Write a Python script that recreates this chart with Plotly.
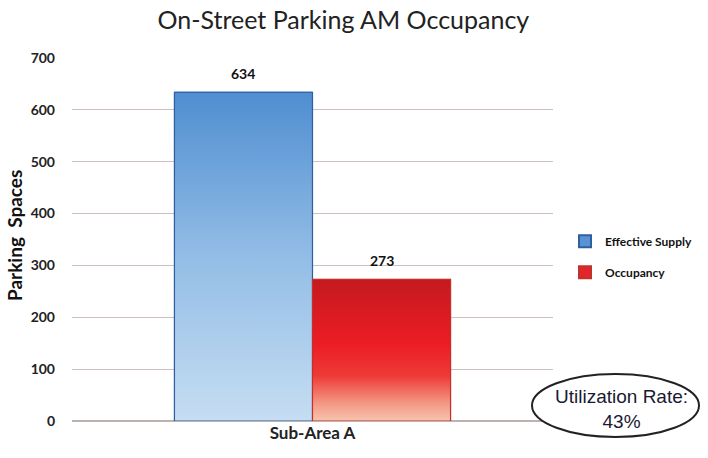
import plotly.graph_objects as go

# Chart data
categories = ["Sub-Area A"]
series_names = ["Effective Supply", "Occupancy"]
supply = [634]
occupancy = [273]
y_ticks = [0, 100, 200, 300, 400, 500, 600, 700]

series_values = [supply, occupancy]
solid_colors = ["#5a93d4", "#e0252b"]
edge_colors = ["#2f5f9e", "#c4302c"]
gradients = [
    [[0.0, "#c6ddf2"], [0.5, "#93bde6"], [1.0, "#4f8ed1"]],
    [[0.0, "#f7c4ae"], [0.12, "#f39a86"], [0.32, "#ee3a36"], [0.55, "#ec1c24"], [1.0, "#c41a1f"]],
]

bar_width = 0.287  # width of each bar in x-axis units
offsets = [-bar_width / 2, bar_width / 2]

fig = go.Figure()

for k, (name, vals, col, edge, off) in enumerate(zip(series_names, series_values, solid_colors, edge_colors, offsets)):
    xs = [i + off for i in range(len(categories))]
    fig.add_trace(go.Bar(
        x=xs, y=vals, name=name, width=bar_width,
        legendgroup=f"g{k}",
        marker=dict(color=col, line=dict(color=edge, width=1)),
    ))
    # value labels above each bar
    for x, v in zip(xs, vals):
        fig.add_annotation(x=x, y=v, text=str(v), showarrow=False, xanchor="center",
                           yanchor="bottom", yshift=8,
                           font=dict(family="Lato", size=14, color="#111111", weight="bold"))

# Vertical gradient fill laid over each bar
for vals, grad, edge, off in zip(series_values, gradients, edge_colors, offsets):
    for i, v in enumerate(vals):
        x0 = i + off - bar_width / 2
        x1 = i + off + bar_width / 2
        fig.add_trace(go.Scatter(
            x=[x0, x1, x1, x0, x0], y=[0, 0, v, v, 0], mode="lines",
            fill="toself", fillgradient=dict(type="vertical", colorscale=grad),
            line=dict(color=edge, width=1.2), showlegend=False, hoverinfo="skip",
        ))

rate = round(100 * sum(occupancy) / sum(supply))

fig.update_layout(
    width=708, height=458,
    margin=dict(l=72, r=155, t=58, b=37, autoexpand=False),
    paper_bgcolor="white", plot_bgcolor="white",
    title=dict(text="On-Street Parking AM Occupancy", x=0.485, xanchor="center", y=0.955, yanchor="middle",
               font=dict(family="Lato", size=25, color="#222222")),
    barmode="overlay",
    showlegend=True,
    legend=dict(x=1.025, y=0.535, xanchor="left", yanchor="top",
                font=dict(family="Lato", size=12, color="#111111", weight="bold"),
                tracegroupgap=12, itemsizing="constant", bgcolor="rgba(0,0,0,0)"),
    xaxis=dict(range=[-0.5, 0.5], tickvals=list(range(len(categories))), ticktext=categories,
               showgrid=False, zeroline=False, showline=False, ticks="", automargin=False,
               tickfont=dict(family="Lato", size=17, color="#222222", weight="bold")),
    yaxis=dict(range=[0, 700], tickvals=y_ticks, showgrid=True, gridcolor="#cdbfbb", gridwidth=1,
               zeroline=True, zerolinecolor="#bdb2ae", zerolinewidth=1.5, showline=False, ticks="",
               ticklabelstandoff=16, automargin=False,
               tickfont=dict(family="Lato", size=14, color="#222222", weight="bold")),
)

fig.add_annotation(text="Parking  Spaces", xref="paper", yref="paper", x=-57 / 481, y=(421 - 236) / 363,
                   textangle=-90, showarrow=False, xanchor="center", yanchor="middle",
                   font=dict(family="Lato", size=19, color="#111111", weight="bold"))

# Utilization rate callout
fig.add_shape(type="circle", xref="paper", yref="paper",
              x0=(532 - 72) / 481, x1=(699 - 72) / 481,
              y0=(421 - 437) / 363, y1=(421 - 374) / 363,
              line=dict(color="#222222", width=2), fillcolor="white")
fig.add_annotation(text=f"Utilization Rate:<br>{rate}%", xref="paper", yref="paper",
                   x=(621 - 72) / 481, y=(421 - 409) / 363, xanchor="center", yanchor="middle",
                   showarrow=False,
                   font=dict(family="Liberation Sans", size=19, color="#1a1a30"))

fig.write_html("out.html")
